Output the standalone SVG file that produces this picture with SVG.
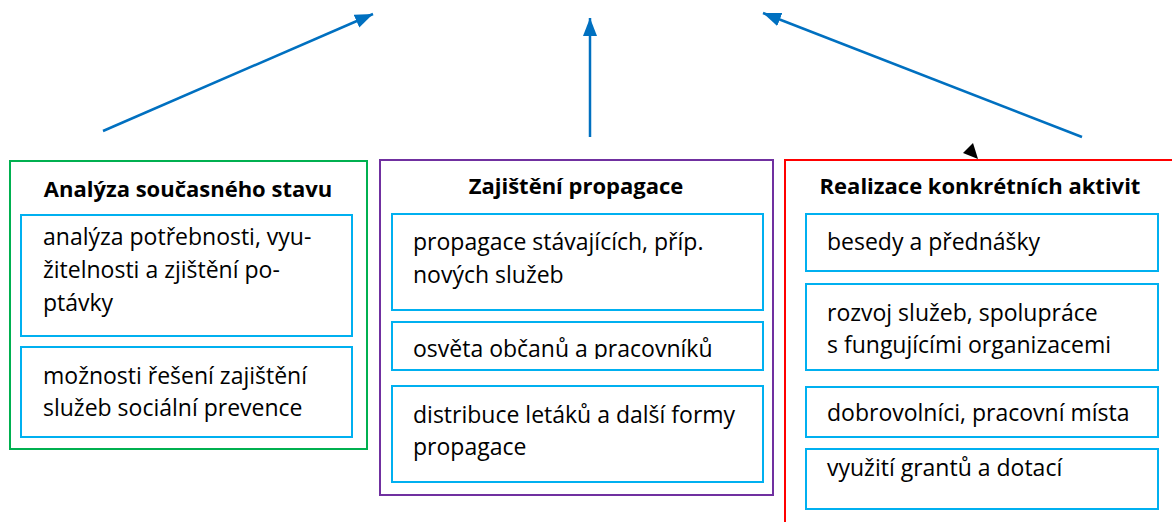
<svg xmlns="http://www.w3.org/2000/svg" width="1172" height="522" viewBox="0 0 1172 522">
<style>
.outer{fill:#fff;stroke-width:2}
.inner{fill:#fff;stroke:#00B0F0;stroke-width:2}
.title{font-family:"Open Sans","Liberation Sans",sans-serif;font-weight:bold;font-size:22px;fill:#000;text-anchor:middle}
.body{font-family:"Open Sans","Liberation Sans",sans-serif;font-size:23px;fill:#000}
.conn{stroke:#0070C0;stroke-width:2.5;fill:none}
</style>
<defs>
<marker id="ah" markerUnits="userSpaceOnUse" markerWidth="20" markerHeight="16" refX="18" refY="7" orient="auto" viewBox="0 0 20 16">
<path d="M0,0 L18,7 L0,14 Z" fill="#0070C0"/>
</marker>
<clipPath id="clipOsveta"><rect x="392" y="322" width="371" height="37"/></clipPath>
</defs>
<rect width="1172" height="522" fill="#fff"/>
<g id="connectors">
<line class="conn" x1="103" y1="131" x2="373" y2="14" marker-end="url(#ah)"/>
<line class="conn" x1="590" y1="137" x2="590" y2="18" marker-end="url(#ah)"/>
<line class="conn" x1="1082" y1="137" x2="763" y2="13" marker-end="url(#ah)"/>
<polygon points="973,143 963,153 978,159" fill="#000"/>
</g>
<g id="node-analyza">
<rect class="outer" x="10" y="161" width="357" height="288" stroke="#00B050"/>
<text class="title" x="188" y="197">Analýza současného stavu</text>
<rect class="inner" x="21" y="215" width="331" height="121"/>
<text class="body" x="43" y="245">analýza potřebnosti, vyu-</text>
<text class="body" x="43" y="278">žitelnosti a zjištění po-</text>
<text class="body" x="43" y="311">ptávky</text>
<rect class="inner" x="21" y="347" width="331" height="90"/>
<text class="body" x="43" y="384">možnosti řešení zajištění</text>
<text class="body" x="43" y="416">služeb sociální prevence</text>
</g>
<g id="node-propagace">
<rect class="outer" x="380" y="160" width="393" height="335" stroke="#7030A0"/>
<text class="title" x="576" y="194">Zajištění propagace</text>
<rect class="inner" x="392" y="214" width="371" height="96"/>
<text class="body" x="413" y="250">propagace stávajících, příp.</text>
<text class="body" x="413" y="283">nových služeb</text>
<rect class="inner" x="392" y="322" width="371" height="48"/>
<text class="body" x="413" y="357" clip-path="url(#clipOsveta)">osvěta občanů a pracovníků</text>
<rect class="inner" x="392" y="386" width="371" height="96"/>
<text class="body" x="413" y="423">distribuce letáků a další formy</text>
<text class="body" x="413" y="455">propagace</text>
</g>
<g id="node-realizace">
<rect class="outer" x="785" y="160" width="400" height="380" stroke="#FF0000"/>
<text class="title" x="980" y="194">Realizace konkrétních aktivit</text>
<rect class="inner" x="806" y="214" width="352" height="57"/>
<text class="body" x="827" y="250">besedy a přednášky</text>
<rect class="inner" x="806" y="284" width="352" height="86"/>
<text class="body" x="827" y="321">rozvoj služeb, spolupráce</text>
<text class="body" x="827" y="353">s fungujícími organizacemi</text>
<rect class="inner" x="806" y="387" width="352" height="50"/>
<text class="body" x="827" y="421">dobrovolníci, pracovní místa</text>
<rect class="inner" x="806" y="449" width="352" height="60"/>
<text class="body" x="827" y="476">využití grantů a dotací</text>
</g>
</svg>
